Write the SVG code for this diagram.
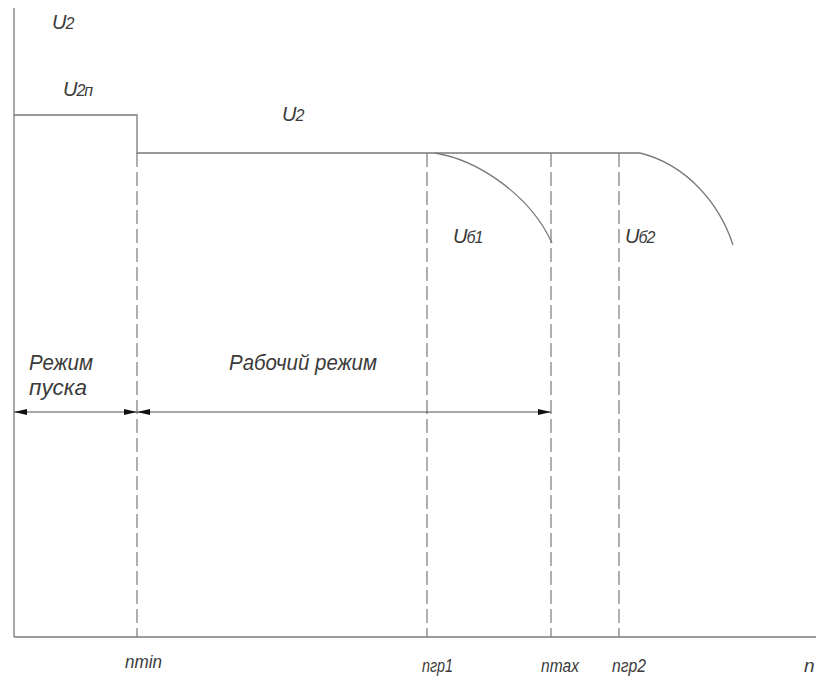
<svg xmlns="http://www.w3.org/2000/svg" width="816" height="680" viewBox="0 0 816 680">
  <style>
    .ln { stroke: #7a7a7a; stroke-width: 1.3; fill: none; }
    .dash { stroke: #7a7a7a; stroke-width: 1.2; fill: none; stroke-dasharray: 14 5; }
    .dim { stroke: #555; stroke-width: 1.2; fill: none; }
    .lbl { font-family: "Liberation Sans", Arial, sans-serif; font-style: italic; fill: #3a3a3a; font-size: 22px; }
    .ulbl { font-family: "Liberation Sans", Arial, sans-serif; font-style: italic; fill: #3a3a3a; font-size: 20px; letter-spacing: -1px; }
    .ax { font-family: "Liberation Sans", Arial, sans-serif; font-style: italic; fill: #3a3a3a; font-size: 19px; }
    .sub { font-size: 16px; }
  </style>
  <defs>
    <marker id="arrow" viewBox="0 0 13 6" refX="13" refY="3" markerWidth="13" markerHeight="6" markerUnits="userSpaceOnUse" orient="auto-start-reverse">
      <path d="M0,0 L13,3 L0,6 Z" fill="#111"/>
    </marker>
  </defs>

  <g id="axes">
    <line class="ln" x1="14" y1="8" x2="14" y2="637"/>
    <line class="ln" x1="14" y1="637" x2="816" y2="637"/>
  </g>

  <g id="guides">
    <line class="dash" x1="137" y1="153" x2="137" y2="637"/>
    <line class="dash" x1="427" y1="153" x2="427" y2="637"/>
    <line class="dash" x1="551" y1="153" x2="551" y2="637"/>
    <line class="dash" x1="619" y1="153" x2="619" y2="637"/>
  </g>

  <g id="curve-u2">
    <!-- starting voltage step, then working level -->
    <polyline class="ln" points="14,115 137,115 137,153 640,153"/>
    <path class="ln" d="M435,153 C478,160 530,195 552,243"/>
    <path class="ln" d="M640,153 C688,165 720,205 733,245"/>
  </g>

  <g id="connectors">
    <line class="dim" x1="14" y1="412" x2="137" y2="412" marker-start="url(#arrow)" marker-end="url(#arrow)"/>
    <line class="dim" x1="137" y1="412" x2="551" y2="412" marker-start="url(#arrow)" marker-end="url(#arrow)"/>
  </g>

  <g id="labels">
    <text class="ulbl" x="52" y="29">U<tspan class="sub">2</tspan></text>
    <text class="ulbl" x="63" y="96">U<tspan class="sub">2п</tspan></text>
    <text class="ulbl" x="282" y="121">U<tspan class="sub">2</tspan></text>
    <text class="ulbl" x="453" y="243">U<tspan class="sub">б1</tspan></text>
    <text class="ulbl" x="625" y="243">U<tspan class="sub">б2</tspan></text>
    <text class="lbl" x="29" y="370" textLength="64" lengthAdjust="spacingAndGlyphs">Режим</text>
    <text class="lbl" x="29" y="395" textLength="58" lengthAdjust="spacingAndGlyphs">пуска</text>
    <text class="lbl" x="229" y="370" textLength="148" lengthAdjust="spacingAndGlyphs">Рабочий режим</text>
  </g>

  <g id="axis-labels">
    <text class="ax" x="125" y="668" textLength="37" lengthAdjust="spacingAndGlyphs">nmin</text>
    <text class="ax" x="422" y="672" textLength="31" lengthAdjust="spacingAndGlyphs">nгр1</text>
    <text class="ax" x="541" y="672" textLength="38" lengthAdjust="spacingAndGlyphs">nmax</text>
    <text class="ax" x="612" y="672" textLength="34" lengthAdjust="spacingAndGlyphs">nгр2</text>
    <text class="ax" x="804" y="672">n</text>
  </g>
</svg>
